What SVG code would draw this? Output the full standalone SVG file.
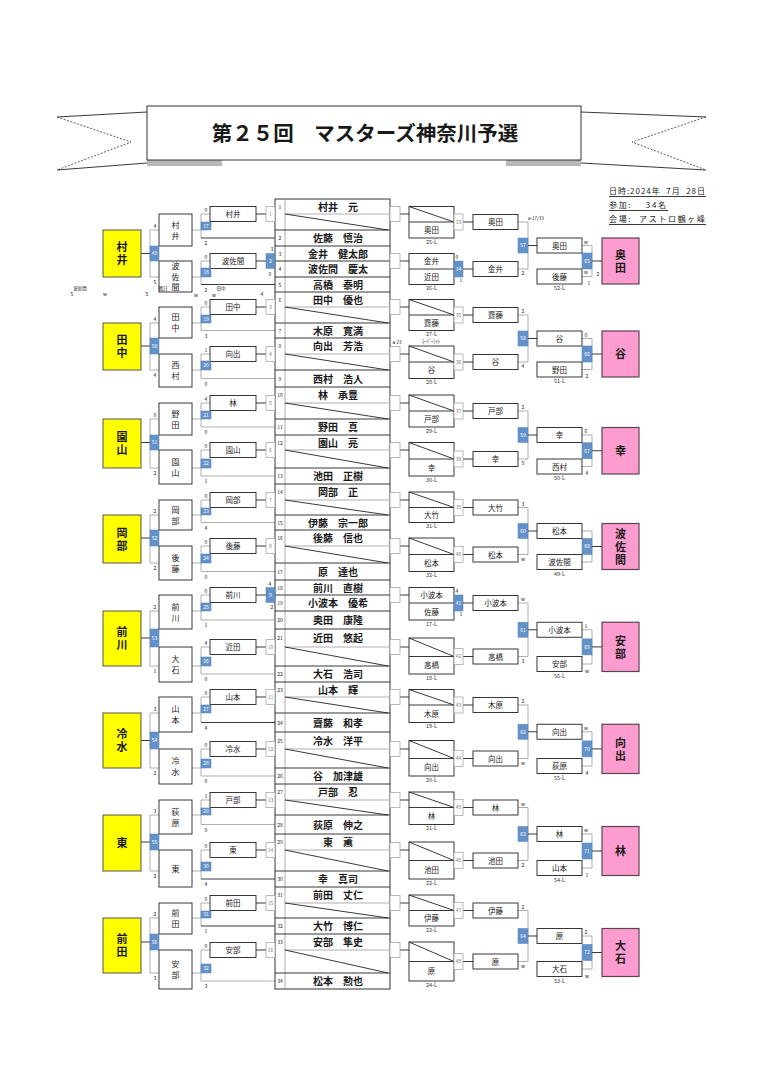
<svg xmlns="http://www.w3.org/2000/svg" width="764" height="1080" viewBox="0 0 764 1080">
<style>
text{font-family:"Noto Sans CJK JP","Noto Sans",sans-serif;text-anchor:middle;fill:#1a1a1a}
.b{fill:#fff;stroke:#222;stroke-width:.9}
.s{fill:#fff;stroke:#a8a8a8;stroke-width:.8}
.u{fill:#6392c9;stroke:#5080b8;stroke-width:.5}
.y{fill:#ffff00;stroke:#555;stroke-width:1}
.p{fill:#fc9ccf;stroke:#5c4552;stroke-width:1.2}
.k{fill:none;stroke:#222;stroke-width:.9}
.g{fill:none;stroke:#a6a6a6;stroke-width:.9}
.d{fill:none;stroke:#333;stroke-width:.8;stroke-dasharray:2 1.5}
.t{font-size:7.5px}
.v{font-size:8px}
.n{font-size:10px;font-weight:bold}
.big{font-size:11px;font-weight:bold}
.vt{writing-mode:vertical-rl;letter-spacing:2px}
.m{font-size:5px;fill:#777}
.w{font-size:5px;fill:#fff}
.sc{font-size:5px;fill:#444}
.lb{font-size:5.5px;fill:#333}
.info{font-size:8px;text-anchor:start;fill:#222}
</style>
<rect x="0" y="0" width="764" height="1080" fill="#fff"/>

<g id="title">
<path class="k" d="M57 117L147 112M57 170L147 163M581 112L706 117M581 163L706 170"/>
<path class="d" d="M57 117L131 142L57 170M706 117L632 142L706 170"/>
<rect x="147" y="158" width="75" height="8" fill="#b8b8b8"/>
<rect x="506" y="158" width="75" height="8" fill="#b8b8b8"/>
<rect x="147" y="106" width="434" height="54" fill="#fff" stroke="#333" stroke-width="1"/>
<text x="365" y="141" style="font-size:20.5px;font-weight:bold">第２５回　マスターズ神奈川予選</text>
</g>

<g id="info">
<text class="info" x="609" y="194" textLength="96" lengthAdjust="spacing" xml:space="preserve">日時:2024年  7月  28日</text>
<text class="info" x="609" y="208" textLength="57" lengthAdjust="spacing" xml:space="preserve">参加:    34名</text>
<text class="info" x="609" y="222" textLength="96" lengthAdjust="spacing" xml:space="preserve">会場:  アストロ鶴ヶ峰</text>
<path class="k" d="M609 196.5H706M609 210.5H668M609 224.5H706" stroke-width=".6"/>
</g>

<g id="connectors">
<path class="g" d="M210 214H201V238M192 230H201M210 261H201V284.5M192 277H201M159 230H150V277H159M210 307H201V330.5H275M192 323H201M210 354H201V378.5H275M192 370H201M159 323H150V370H159M210 403H201V427H275M192 419H201M210 450H201V476H275M192 468H201M159 419H150V468H159M210 500H201V522.5H275M192 515H201M210 546H201V571.5H275M192 563H201M159 515H150V563H159M210 595H201V620H275M192 611H201M210 647H201V674H275M192 666H201M159 611H150V666H159M210 697H201V722.5M192 713H201M210 749H201V776H275M192 768H201M159 713H150V768H159M210 800H201V824.5H275M192 815H201M210 850H201V879M192 871H201M159 815H150V871H159M210 903H201V926M192 918H201M210 950H201V981H275M192 973H201M159 918H150V973H159"/>
<path class="k" d="M256 214H266M201 238H275M256 261H266M201 284.5H275M141 253.5H150M256 307H266M141 346H150M256 354H266M256 403H266M256 450H266M141 442.5H150M256 500H266M256 546H266M141 538H150M256 595H266M256 647H266M141 638H150M256 697H266M201 722.5H275M256 749H266M141 740.5H150M256 800H266M256 850H266M201 879H275M141 842H150M256 903H266M201 926H275M256 950H266M141 942H150"/>
<path class="k" d="M400 214H409M463 222H473M400 261H409M463 269H473M400 307H409M463 315H473M400 354H409M463 362H473M400 403H409M463 411H473M400 450H409M463 459H473M400 500H409M463 507.5H473M400 546H409M463 554.5H473M400 595H409M463 603H473M400 647H409M463 656.5H473M400 697H409M463 705H473M400 749H409M463 758.5H473M400 800H409M463 807.5H473M400 850H409M463 860.5H473M400 903H409M463 910.5H473M400 950H409M463 961.5H473"/>
<path class="g" d="M518 222H528V269H518M582 245.5H592V276.5H582M518 315H528V362H518M582 338.5H592V369.5H582M518 411H528V459H518M582 435H592V466.5H582M518 507.5H528V554.5H518M582 531H592V562H582M518 603H528V656.5H518M582 629.75H592V664H582M518 705H528V758.5H518M582 731.75H592V766H582M518 807.5H528V860.5H518M582 834H592V868H582M518 910.5H528V961.5H518M582 936H592V969H582"/>
<path class="k" d="M528 245.5H537M592 261H602M528 338.5H537M592 354H602M528 435H537M592 450.75H602M528 531H537M592 546.5H602M528 629.75H537M592 646.9H602M528 731.75H537M592 748.9H602M528 834H537M592 851H602M528 936H537M592 952.5H602"/>
</g>

<g id="list">
<rect x="275" y="199" width="115" height="790" fill="#fff" stroke="#333" stroke-width="1"/>
<path d="M285 199V989" stroke="#999" stroke-width=".8"/>
<path class="k" d="M275 230H390M275 246H390M275 261H390M275 277H390M275 292H390M275 323H390M275 338H390M275 370H390M275 387H390M275 419H390M275 435H390M275 468H390M275 484H390M275 515H390M275 530H390M275 563H390M275 580H390M275 595H390M275 611H390M275 629H390M275 666H390M275 682H390M275 713H390M275 732H390M275 768H390M275 784H390M275 815H390M275 834H390M275 871H390M275 887H390M275 918H390M275 934H390M275 973H390"/>
<path class="g" d="M285 214H390M285 307H390M285 354H390M285 403H390M285 450H390M285 500H390M285 546H390M285 647H390M285 697H390M285 749H390M285 800H390M285 850H390M285 903H390M285 950H390"/>
<path class="k" d="M285 214L388 230M285 307L388 323M285 354L388 370M285 403L388 419M285 450L388 468M285 500L388 515M285 546L388 563M285 647L388 666M285 697L388 713M285 749L388 768M285 800L388 815M285 850L388 871M285 903L388 918M285 950L388 973"/>
<g class="m">
<text x="280" y="208.5">1</text><text x="280" y="240">2</text><text x="280" y="255.5">3</text><text x="280" y="271">4</text><text x="280" y="286.5">5</text><text x="280" y="301.5">6</text><text x="280" y="332.5">7</text><text x="280" y="348">8</text><text x="280" y="380.5">9</text><text x="280" y="397">10</text><text x="280" y="429">11</text><text x="280" y="444.5">12</text><text x="280" y="478">13</text><text x="280" y="494">14</text><text x="280" y="524.5">15</text><text x="280" y="540">16</text><text x="280" y="573.5">17</text><text x="280" y="589.5">18</text><text x="280" y="605">19</text><text x="280" y="622">20</text><text x="280" y="640">21</text><text x="280" y="676">22</text><text x="280" y="691.5">23</text><text x="280" y="724.5">24</text><text x="280" y="742.5">25</text><text x="280" y="778">26</text><text x="280" y="794">27</text><text x="280" y="826.5">28</text><text x="280" y="844">29</text><text x="280" y="881">30</text><text x="280" y="897">31</text><text x="280" y="928">32</text><text x="280" y="944">33</text><text x="280" y="983">34</text>
</g>
<g class="n">
<text x="338" y="210.5">村井　元</text>
<text x="338" y="242">佐藤　慎治</text>
<text x="338" y="257.5">金井　健太郎</text>
<text x="338" y="273">波佐間　慶太</text>
<text x="338" y="288.5">高橋　泰明</text>
<text x="338" y="303.5">田中　優也</text>
<text x="338" y="334.5">木原　寛満</text>
<text x="338" y="350">向出　芳浩</text>
<text x="338" y="382.5">西村　浩人</text>
<text x="338" y="399">林　承豊</text>
<text x="338" y="431">野田　真</text>
<text x="338" y="446.5">園山　亮</text>
<text x="338" y="480">池田　正樹</text>
<text x="338" y="496">岡部　正</text>
<text x="338" y="526.5">伊藤　宗一郎</text>
<text x="338" y="542">後藤　信也</text>
<text x="338" y="575.5">原　達也</text>
<text x="338" y="591.5">前川　直樹</text>
<text x="338" y="607">小波本　優希</text>
<text x="338" y="624">奥田　康隆</text>
<text x="338" y="642">近田　悠起</text>
<text x="338" y="678">大石　浩司</text>
<text x="338" y="693.5">山本　輝</text>
<text x="338" y="726.5">齋藤　和孝</text>
<text x="338" y="744.5">冷水　洋平</text>
<text x="338" y="780">谷　加津雄</text>
<text x="338" y="796">戸部　忍</text>
<text x="338" y="828.5">荻原　伸之</text>
<text x="338" y="846">東　薫</text>
<text x="338" y="883">幸　真司</text>
<text x="338" y="899">前田　丈仁</text>
<text x="338" y="930">大竹　博仁</text>
<text x="338" y="946">安部　隼史</text>
<text x="338" y="985">松本　勲也</text>
</g>
</g>

<g id="a1"><rect class="b" x="210" y="206.5" width="46" height="15"/><text class="t" x="233" y="216.5">村井</text></g>
<g id="a2"><rect class="b" x="210" y="253.5" width="46" height="15"/><text class="t" x="233" y="263.5">波佐間</text></g>
<g id="a3"><rect class="b" x="210" y="299.5" width="46" height="15"/><text class="t" x="233" y="309.5">田中</text></g>
<g id="a4"><rect class="b" x="210" y="346.5" width="46" height="15"/><text class="t" x="233" y="356.5">向出</text></g>
<g id="a5"><rect class="b" x="210" y="395.5" width="46" height="15"/><text class="t" x="233" y="405.5">林</text></g>
<g id="a6"><rect class="b" x="210" y="442.5" width="46" height="15"/><text class="t" x="233" y="452.5">園山</text></g>
<g id="a7"><rect class="b" x="210" y="492.5" width="46" height="15"/><text class="t" x="233" y="502.5">岡部</text></g>
<g id="a8"><rect class="b" x="210" y="538.5" width="46" height="15"/><text class="t" x="233" y="548.5">後藤</text></g>
<g id="a9"><rect class="b" x="210" y="587.5" width="46" height="15"/><text class="t" x="233" y="597.5">前川</text></g>
<g id="a10"><rect class="b" x="210" y="639.5" width="46" height="15"/><text class="t" x="233" y="649.5">近田</text></g>
<g id="a11"><rect class="b" x="210" y="689.5" width="46" height="15"/><text class="t" x="233" y="699.5">山本</text></g>
<g id="a12"><rect class="b" x="210" y="741.5" width="46" height="15"/><text class="t" x="233" y="751.5">冷水</text></g>
<g id="a13"><rect class="b" x="210" y="792.5" width="46" height="15"/><text class="t" x="233" y="802.5">戸部</text></g>
<g id="a14"><rect class="b" x="210" y="842.5" width="46" height="15"/><text class="t" x="233" y="852.5">東</text></g>
<g id="a15"><rect class="b" x="210" y="895.5" width="46" height="15"/><text class="t" x="233" y="905.5">前田</text></g>
<g id="a16"><rect class="b" x="210" y="942.5" width="46" height="15"/><text class="t" x="233" y="952.5">安部</text></g>

<g id="m1"><rect class="s" x="266" y="206.5" width="9" height="15"/><text class="m" x="270.5" y="216">1</text></g>
<g id="m2"><rect class="u" x="266" y="253.5" width="9" height="15"/><text class="w" x="270.5" y="263">2</text></g>
<g id="m3"><rect class="s" x="266" y="299.5" width="9" height="15"/><text class="m" x="270.5" y="309">3</text></g>
<g id="m4"><rect class="s" x="266" y="346.5" width="9" height="15"/><text class="m" x="270.5" y="356">4</text></g>
<g id="m5"><rect class="s" x="266" y="395.5" width="9" height="15"/><text class="m" x="270.5" y="405">5</text></g>
<g id="m6"><rect class="s" x="266" y="442.5" width="9" height="15"/><text class="m" x="270.5" y="452">6</text></g>
<g id="m7"><rect class="s" x="266" y="492.5" width="9" height="15"/><text class="m" x="270.5" y="502">7</text></g>
<g id="m8"><rect class="s" x="266" y="538.5" width="9" height="15"/><text class="m" x="270.5" y="548">8</text></g>
<g id="m9"><rect class="u" x="266" y="587.5" width="9" height="15"/><text class="w" x="270.5" y="597">9</text></g>
<g id="m10"><rect class="s" x="266" y="639.5" width="9" height="15"/><text class="m" x="270.5" y="649">10</text></g>
<g id="m11"><rect class="s" x="266" y="689.5" width="9" height="15"/><text class="m" x="270.5" y="699">11</text></g>
<g id="m12"><rect class="s" x="266" y="741.5" width="9" height="15"/><text class="m" x="270.5" y="751">12</text></g>
<g id="m13"><rect class="s" x="266" y="792.5" width="9" height="15"/><text class="m" x="270.5" y="802">13</text></g>
<g id="m14"><rect class="s" x="266" y="842.5" width="9" height="15"/><text class="m" x="270.5" y="852">14</text></g>
<g id="m15"><rect class="s" x="266" y="895.5" width="9" height="15"/><text class="m" x="270.5" y="905">15</text></g>
<g id="m16"><rect class="s" x="266" y="942.5" width="9" height="15"/><text class="m" x="270.5" y="952">16</text></g>

<g id="m17"><rect class="u" x="201" y="222" width="10" height="8"/><text class="w" x="206" y="227.8">17</text></g>
<g id="m18"><rect class="u" x="201" y="268" width="10" height="9"/><text class="w" x="206" y="274.3">18</text></g>
<g id="m19"><rect class="u" x="201" y="315" width="10" height="8"/><text class="w" x="206" y="320.8">19</text></g>
<g id="m20"><rect class="u" x="201" y="361" width="10" height="9"/><text class="w" x="206" y="367.3">20</text></g>
<g id="m21"><rect class="u" x="201" y="411" width="10" height="8"/><text class="w" x="206" y="416.8">21</text></g>
<g id="m22"><rect class="u" x="201" y="459" width="10" height="9"/><text class="w" x="206" y="465.3">22</text></g>
<g id="m23"><rect class="u" x="201" y="508" width="10" height="7"/><text class="w" x="206" y="513.3">23</text></g>
<g id="m24"><rect class="u" x="201" y="554" width="10" height="9"/><text class="w" x="206" y="560.3">24</text></g>
<g id="m25"><rect class="u" x="201" y="603" width="10" height="8"/><text class="w" x="206" y="608.8">25</text></g>
<g id="m26"><rect class="u" x="201" y="657" width="10" height="9"/><text class="w" x="206" y="663.3">26</text></g>
<g id="m27"><rect class="u" x="201" y="705" width="10" height="8"/><text class="w" x="206" y="710.8">27</text></g>
<g id="m28"><rect class="u" x="201" y="759" width="10" height="9"/><text class="w" x="206" y="765.3">28</text></g>
<g id="m29"><rect class="u" x="201" y="808" width="10" height="7"/><text class="w" x="206" y="813.3">29</text></g>
<g id="m30"><rect class="u" x="201" y="862" width="10" height="9"/><text class="w" x="206" y="868.3">30</text></g>
<g id="m31"><rect class="u" x="201" y="911" width="10" height="7"/><text class="w" x="206" y="916.3">31</text></g>
<g id="m32"><rect class="u" x="201" y="964" width="10" height="9"/><text class="w" x="206" y="970.3">32</text></g>

<g id="b1"><rect class="b" x="159" y="214" width="33" height="32"/><text class="v" x="175.5" y="227.5">村</text><text class="v" x="175.5" y="238.5">井</text></g>
<g id="b2"><rect class="b" x="159" y="261" width="33" height="31"/><text class="v" x="175.5" y="269">波</text><text class="v" x="175.5" y="279.5">佐</text><text class="v" x="175.5" y="290">間</text></g>
<g id="b3"><rect class="b" x="159" y="307" width="33" height="31"/><text class="v" x="175.5" y="320">田</text><text class="v" x="175.5" y="331">中</text></g>
<g id="b4"><rect class="b" x="159" y="354" width="33" height="33"/><text class="v" x="175.5" y="368">西</text><text class="v" x="175.5" y="379">村</text></g>
<g id="b5"><rect class="b" x="159" y="403" width="33" height="32"/><text class="v" x="175.5" y="416.5">野</text><text class="v" x="175.5" y="427.5">田</text></g>
<g id="b6"><rect class="b" x="159" y="450" width="33" height="34"/><text class="v" x="175.5" y="464.5">園</text><text class="v" x="175.5" y="475.5">山</text></g>
<g id="b7"><rect class="b" x="159" y="500" width="33" height="30"/><text class="v" x="175.5" y="512.5">岡</text><text class="v" x="175.5" y="523.5">部</text></g>
<g id="b8"><rect class="b" x="159" y="546" width="33" height="34"/><text class="v" x="175.5" y="560.5">後</text><text class="v" x="175.5" y="571.5">藤</text></g>
<g id="b9"><rect class="b" x="159" y="595" width="33" height="34"/><text class="v" x="175.5" y="609.5">前</text><text class="v" x="175.5" y="620.5">川</text></g>
<g id="b10"><rect class="b" x="159" y="647" width="33" height="35"/><text class="v" x="175.5" y="662">大</text><text class="v" x="175.5" y="673">石</text></g>
<g id="b11"><rect class="b" x="159" y="697" width="33" height="35"/><text class="v" x="175.5" y="712">山</text><text class="v" x="175.5" y="723">本</text></g>
<g id="b12"><rect class="b" x="159" y="749" width="33" height="35"/><text class="v" x="175.5" y="764">冷</text><text class="v" x="175.5" y="775">水</text></g>
<g id="b13"><rect class="b" x="159" y="800" width="33" height="34"/><text class="v" x="175.5" y="814.5">荻</text><text class="v" x="175.5" y="825.5">原</text></g>
<g id="b14"><rect class="b" x="159" y="850" width="33" height="37"/><text class="v" x="175.5" y="871.5">東</text></g>
<g id="b15"><rect class="b" x="159" y="903" width="33" height="31"/><text class="v" x="175.5" y="916">前</text><text class="v" x="175.5" y="927">田</text></g>
<g id="b16"><rect class="b" x="159" y="950" width="33" height="39"/><text class="v" x="175.5" y="967">安</text><text class="v" x="175.5" y="978">部</text></g>

<g id="m49"><rect class="u" x="150" y="246" width="9" height="15"/><text class="w" x="154.5" y="255.3">49</text></g>
<g id="m50"><rect class="u" x="150" y="338" width="9" height="16"/><text class="w" x="154.5" y="347.8">50</text></g>
<g id="m51"><rect class="u" x="150" y="435" width="9" height="15"/><text class="w" x="154.5" y="444.3">51</text></g>
<g id="m52"><rect class="u" x="150" y="530" width="9" height="16"/><text class="w" x="154.5" y="539.8">52</text></g>
<g id="m53"><rect class="u" x="150" y="629" width="9" height="18"/><text class="w" x="154.5" y="639.8">53</text></g>
<g id="m54"><rect class="u" x="150" y="732" width="9" height="17"/><text class="w" x="154.5" y="742.3">54</text></g>
<g id="m55"><rect class="u" x="150" y="834" width="9" height="16"/><text class="w" x="154.5" y="843.8">55</text></g>
<g id="m56"><rect class="u" x="150" y="934" width="9" height="16"/><text class="w" x="154.5" y="943.8">56</text></g>

<g id="y1"><rect class="y" x="103" y="230" width="38" height="47"/><text class="big vt" x="122" y="254.5">村井</text></g>
<g id="y2"><rect class="y" x="103" y="323" width="38" height="47"/><text class="big vt" x="122" y="347.5">田中</text></g>
<g id="y3"><rect class="y" x="103" y="419" width="38" height="49"/><text class="big vt" x="122" y="444.5">園山</text></g>
<g id="y4"><rect class="y" x="103" y="515" width="38" height="48"/><text class="big vt" x="122" y="540">岡部</text></g>
<g id="y5"><rect class="y" x="103" y="611" width="38" height="55"/><text class="big vt" x="122" y="639.5">前川</text></g>
<g id="y6"><rect class="y" x="103" y="713" width="38" height="55"/><text class="big vt" x="122" y="741.5">冷水</text></g>
<g id="y7"><rect class="y" x="103" y="815" width="38" height="56"/><text class="big vt" x="122" y="844">東</text></g>
<g id="y8"><rect class="y" x="103" y="918" width="38" height="55"/><text class="big vt" x="122" y="946.5">前田</text></g>

<g id="rs">
<rect class="s" x="390" y="206.5" width="10" height="15"/><rect class="s" x="390" y="253.5" width="10" height="15"/><rect class="s" x="390" y="299.5" width="10" height="15"/><rect class="s" x="390" y="346.5" width="10" height="15"/><rect class="s" x="390" y="395.5" width="10" height="15"/><rect class="s" x="390" y="442.5" width="10" height="15"/><rect class="s" x="390" y="492.5" width="10" height="15"/><rect class="s" x="390" y="538.5" width="10" height="15"/><rect class="s" x="390" y="587.5" width="10" height="15"/><rect class="s" x="390" y="639.5" width="10" height="15"/><rect class="s" x="390" y="689.5" width="10" height="15"/><rect class="s" x="390" y="741.5" width="10" height="15"/><rect class="s" x="390" y="792.5" width="10" height="15"/><rect class="s" x="390" y="842.5" width="10" height="15"/><rect class="s" x="390" y="895.5" width="10" height="15"/><rect class="s" x="390" y="942.5" width="10" height="15"/>
</g>

<g id="l1"><rect class="b" x="409" y="206.5" width="45" height="31.5"/><path class="k" d="M409 222H454M409 206.5L454 222"/><text class="t" x="431.5" y="233">奥田</text><text class="lb" x="431.5" y="243.5">25-L</text></g>
<g id="l2"><rect class="b" x="409" y="253.5" width="45" height="31"/><path class="k" d="M409 269H454"/><text class="t" x="431.5" y="264.3">金井</text><text class="t" x="431.5" y="279.8">近田</text><text class="lb" x="431.5" y="290">26-L</text></g>
<g id="l3"><rect class="b" x="409" y="299.5" width="45" height="31"/><path class="k" d="M409 315H454M409 299.5L454 315"/><text class="t" x="431.5" y="325.8">齋藤</text><text class="lb" x="431.5" y="336">27-L</text></g>
<g id="l4"><rect class="b" x="409" y="346" width="45" height="32.5"/><path class="k" d="M409 362H454M409 346L454 362"/><text class="t" x="431.5" y="373.3">谷</text><text class="lb" x="431.5" y="384">28-L</text></g>
<g id="l5"><rect class="b" x="409" y="395" width="45" height="32"/><path class="k" d="M409 411H454M409 395L454 411"/><text class="t" x="431.5" y="422">戸部</text><text class="lb" x="431.5" y="432.5">29-L</text></g>
<g id="l6"><rect class="b" x="409" y="442.5" width="45" height="33.5"/><path class="k" d="M409 459H454M409 442.5L454 459"/><text class="t" x="431.5" y="470.5">幸</text><text class="lb" x="431.5" y="481.5">30-L</text></g>
<g id="l7"><rect class="b" x="409" y="492" width="45" height="30.5"/><path class="k" d="M409 507.5H454M409 492L454 507.5"/><text class="t" x="431.5" y="518">大竹</text><text class="lb" x="431.5" y="528">31-L</text></g>
<g id="l8"><rect class="b" x="409" y="538" width="45" height="33.5"/><path class="k" d="M409 554.5H454M409 538L454 554.5"/><text class="t" x="431.5" y="566">松本</text><text class="lb" x="431.5" y="577">32-L</text></g>
<g id="l9"><rect class="b" x="409" y="587.5" width="45" height="32.5"/><path class="k" d="M409 603H454"/><text class="t" x="431.5" y="598.3">小波本</text><text class="t" x="431.5" y="614.5">佐藤</text><text class="lb" x="431.5" y="625.5">17-L</text></g>
<g id="l10"><rect class="b" x="409" y="638" width="45" height="36"/><path class="k" d="M409 656.5H454M409 638L454 656.5"/><text class="t" x="431.5" y="668.3">高橋</text><text class="lb" x="431.5" y="679.5">18-L</text></g>
<g id="l11"><rect class="b" x="409" y="689.5" width="45" height="33"/><path class="k" d="M409 705H454M409 689.5L454 705"/><text class="t" x="431.5" y="716.8">木原</text><text class="lb" x="431.5" y="728">19-L</text></g>
<g id="l12"><rect class="b" x="409" y="740.5" width="45" height="35.5"/><path class="k" d="M409 758.5H454M409 740.5L454 758.5"/><text class="t" x="431.5" y="770.3">向出</text><text class="lb" x="431.5" y="781.5">20-L</text></g>
<g id="l13"><rect class="b" x="409" y="792" width="45" height="32.5"/><path class="k" d="M409 807.5H454M409 792L454 807.5"/><text class="t" x="431.5" y="819">林</text><text class="lb" x="431.5" y="830">21-L</text></g>
<g id="l14"><rect class="b" x="409" y="842" width="45" height="37"/><path class="k" d="M409 860.5H454M409 842L454 860.5"/><text class="t" x="431.5" y="872.8">池田</text><text class="lb" x="431.5" y="884.5">22-L</text></g>
<g id="l15"><rect class="b" x="409" y="895" width="45" height="31"/><path class="k" d="M409 910.5H454M409 895L454 910.5"/><text class="t" x="431.5" y="921.3">伊藤</text><text class="lb" x="431.5" y="931.5">23-L</text></g>
<g id="l16"><rect class="b" x="409" y="942" width="45" height="39"/><path class="k" d="M409 961.5H454M409 942L454 961.5"/><text class="t" x="431.5" y="974.3">原</text><text class="lb" x="431.5" y="986.5">24-L</text></g>

<g id="m33"><rect class="s" x="454" y="214" width="9" height="16"/><text class="m" x="458.5" y="223.8">33</text></g>
<g id="m34"><rect class="u" x="454" y="261" width="9" height="16"/><text class="w" x="458.5" y="270.8">34</text></g>
<g id="m35"><rect class="s" x="454" y="307" width="9" height="16"/><text class="m" x="458.5" y="316.8">35</text></g>
<g id="m36"><rect class="s" x="454" y="354" width="9" height="16"/><text class="m" x="458.5" y="363.8">36</text></g>
<g id="m37"><rect class="s" x="454" y="403" width="9" height="16"/><text class="m" x="458.5" y="412.8">37</text></g>
<g id="m38"><rect class="s" x="454" y="451" width="9" height="16"/><text class="m" x="458.5" y="460.8">38</text></g>
<g id="m39"><rect class="s" x="454" y="499.5" width="9" height="16"/><text class="m" x="458.5" y="509.3">39</text></g>
<g id="m40"><rect class="s" x="454" y="546.5" width="9" height="16"/><text class="m" x="458.5" y="556.3">40</text></g>
<g id="m41"><rect class="u" x="454" y="595" width="9" height="16"/><text class="w" x="458.5" y="604.8">41</text></g>
<g id="m42"><rect class="s" x="454" y="648.5" width="9" height="16"/><text class="m" x="458.5" y="658.3">42</text></g>
<g id="m43"><rect class="s" x="454" y="697" width="9" height="16"/><text class="m" x="458.5" y="706.8">43</text></g>
<g id="m44"><rect class="s" x="454" y="750.5" width="9" height="16"/><text class="m" x="458.5" y="760.3">44</text></g>
<g id="m45"><rect class="s" x="454" y="799.5" width="9" height="16"/><text class="m" x="458.5" y="809.3">45</text></g>
<g id="m46"><rect class="s" x="454" y="852.5" width="9" height="16"/><text class="m" x="458.5" y="862.3">46</text></g>
<g id="m47"><rect class="s" x="454" y="902.5" width="9" height="16"/><text class="m" x="458.5" y="912.3">47</text></g>
<g id="m48"><rect class="s" x="454" y="953.5" width="9" height="16"/><text class="m" x="458.5" y="963.3">48</text></g>

<g id="w33"><rect class="b" x="473" y="214.5" width="45" height="15"/><text class="t" x="495.5" y="225">奥田</text></g>
<g id="w34"><rect class="b" x="473" y="261.5" width="45" height="15"/><text class="t" x="495.5" y="272">金井</text></g>
<g id="w35"><rect class="b" x="473" y="307.5" width="45" height="15"/><text class="t" x="495.5" y="318">齋藤</text></g>
<g id="w36"><rect class="b" x="473" y="354.5" width="45" height="15"/><text class="t" x="495.5" y="365">谷</text></g>
<g id="w37"><rect class="b" x="473" y="403.5" width="45" height="15"/><text class="t" x="495.5" y="414">戸部</text></g>
<g id="w38"><rect class="b" x="473" y="451.5" width="45" height="15"/><text class="t" x="495.5" y="462">幸</text></g>
<g id="w39"><rect class="b" x="473" y="500" width="45" height="15"/><text class="t" x="495.5" y="510.5">大竹</text></g>
<g id="w40"><rect class="b" x="473" y="547" width="45" height="15"/><text class="t" x="495.5" y="557.5">松本</text></g>
<g id="w41"><rect class="b" x="473" y="595.5" width="45" height="15"/><text class="t" x="495.5" y="606">小波本</text></g>
<g id="w42"><rect class="b" x="473" y="649" width="45" height="15"/><text class="t" x="495.5" y="659.5">高橋</text></g>
<g id="w43"><rect class="b" x="473" y="697.5" width="45" height="15"/><text class="t" x="495.5" y="708">木原</text></g>
<g id="w44"><rect class="b" x="473" y="751" width="45" height="15"/><text class="t" x="495.5" y="761.5">向出</text></g>
<g id="w45"><rect class="b" x="473" y="800" width="45" height="15"/><text class="t" x="495.5" y="810.5">林</text></g>
<g id="w46"><rect class="b" x="473" y="853" width="45" height="15"/><text class="t" x="495.5" y="863.5">池田</text></g>
<g id="w47"><rect class="b" x="473" y="903" width="45" height="15"/><text class="t" x="495.5" y="913.5">伊藤</text></g>
<g id="w48"><rect class="b" x="473" y="954" width="45" height="15"/><text class="t" x="495.5" y="964.5">原</text></g>

<g id="m57"><rect class="u" x="518" y="238" width="10" height="15"/><text class="w" x="523" y="247.3">57</text></g>
<g id="m58"><rect class="u" x="518" y="331" width="10" height="15"/><text class="w" x="523" y="340.3">58</text></g>
<g id="m59"><rect class="u" x="518" y="427.5" width="10" height="15"/><text class="w" x="523" y="436.8">59</text></g>
<g id="m60"><rect class="u" x="518" y="523.5" width="10" height="15"/><text class="w" x="523" y="532.8">60</text></g>
<g id="m61"><rect class="u" x="518" y="622.25" width="10" height="15"/><text class="w" x="523" y="631.5">61</text></g>
<g id="m62"><rect class="u" x="518" y="724.25" width="10" height="15"/><text class="w" x="523" y="733.5">62</text></g>
<g id="m63"><rect class="u" x="518" y="826.5" width="10" height="15"/><text class="w" x="523" y="835.8">63</text></g>
<g id="m64"><rect class="u" x="518" y="928.5" width="10" height="15"/><text class="w" x="523" y="937.8">64</text></g>

<g id="r57"><rect class="b" x="537" y="238" width="45" height="15"/><text class="t" x="559.5" y="248.5">奥田</text></g>
<g id="q1"><rect class="b" x="537" y="269" width="45" height="15"/><text class="t" x="559.5" y="279.5">後藤</text><text class="lb" x="559.5" y="290">52-L</text></g>
<g id="r58"><rect class="b" x="537" y="331" width="45" height="15"/><text class="t" x="559.5" y="341.5">谷</text></g>
<g id="q2"><rect class="b" x="537" y="362" width="45" height="15"/><text class="t" x="559.5" y="372.5">野田</text><text class="lb" x="559.5" y="383">51-L</text></g>
<g id="r59"><rect class="b" x="537" y="427.5" width="45" height="15"/><text class="t" x="559.5" y="438">幸</text></g>
<g id="q3"><rect class="b" x="537" y="459" width="45" height="15"/><text class="t" x="559.5" y="469.5">西村</text><text class="lb" x="559.5" y="480">50-L</text></g>
<g id="r60"><rect class="b" x="537" y="523.5" width="45" height="15"/><text class="t" x="559.5" y="534">松本</text></g>
<g id="q4"><rect class="b" x="537" y="554.5" width="45" height="15"/><text class="t" x="559.5" y="565">波佐間</text><text class="lb" x="559.5" y="575.5">49-L</text></g>
<g id="r61"><rect class="b" x="537" y="622.25" width="45" height="15"/><text class="t" x="559.5" y="632.75">小波本</text></g>
<g id="q5"><rect class="b" x="537" y="656.5" width="45" height="15"/><text class="t" x="559.5" y="667">安部</text><text class="lb" x="559.5" y="677.5">56-L</text></g>
<g id="r62"><rect class="b" x="537" y="724.25" width="45" height="15"/><text class="t" x="559.5" y="734.75">向出</text></g>
<g id="q6"><rect class="b" x="537" y="758.5" width="45" height="15"/><text class="t" x="559.5" y="769">荻原</text><text class="lb" x="559.5" y="779.5">55-L</text></g>
<g id="r63"><rect class="b" x="537" y="826.5" width="45" height="15"/><text class="t" x="559.5" y="837">林</text></g>
<g id="q7"><rect class="b" x="537" y="860.5" width="45" height="15"/><text class="t" x="559.5" y="871">山本</text><text class="lb" x="559.5" y="881.5">54-L</text></g>
<g id="r64"><rect class="b" x="537" y="928.5" width="45" height="15"/><text class="t" x="559.5" y="939">原</text></g>
<g id="q8"><rect class="b" x="537" y="961.5" width="45" height="15"/><text class="t" x="559.5" y="972">大石</text><text class="lb" x="559.5" y="982.5">53-L</text></g>

<g id="m65"><rect class="u" x="582" y="253" width="10" height="16"/><text class="w" x="587" y="262.8">65</text></g>
<g id="m66"><rect class="u" x="582" y="346" width="10" height="16"/><text class="w" x="587" y="355.8">66</text></g>
<g id="m67"><rect class="u" x="582" y="442.75" width="10" height="16"/><text class="w" x="587" y="452.5">67</text></g>
<g id="m68"><rect class="u" x="582" y="538.5" width="10" height="16"/><text class="w" x="587" y="548.3">68</text></g>
<g id="m69"><rect class="u" x="582" y="638.9" width="10" height="16"/><text class="w" x="587" y="648.7">69</text></g>
<g id="m70"><rect class="u" x="582" y="740.9" width="10" height="16"/><text class="w" x="587" y="750.7">70</text></g>
<g id="m71"><rect class="u" x="582" y="843" width="10" height="16"/><text class="w" x="587" y="852.8">71</text></g>
<g id="m72"><rect class="u" x="582" y="944.5" width="10" height="16"/><text class="w" x="587" y="954.3">72</text></g>

<g id="p1"><rect class="p" x="602" y="238" width="37" height="46"/><text class="big vt" x="620.5" y="262">奥田</text></g>
<g id="p2"><rect class="p" x="602" y="331" width="37" height="46"/><text class="big vt" x="620.5" y="355">谷</text></g>
<g id="p3"><rect class="p" x="602" y="427.5" width="37" height="46.5"/><text class="big vt" x="620.5" y="451.75">幸</text></g>
<g id="p4"><rect class="p" x="602" y="523.5" width="37" height="46"/><text class="big vt" x="620.5" y="547.5">波佐間</text></g>
<g id="p5"><rect class="p" x="602" y="622.25" width="37" height="49.25"/><text class="big vt" x="620.5" y="647.9">安部</text></g>
<g id="p6"><rect class="p" x="602" y="724.25" width="37" height="49.25"/><text class="big vt" x="620.5" y="749.9">向出</text></g>
<g id="p7"><rect class="p" x="602" y="826.5" width="37" height="49"/><text class="big vt" x="620.5" y="852">林</text></g>
<g id="p8"><rect class="p" x="602" y="928.5" width="37" height="48"/><text class="big vt" x="620.5" y="953.5">大石</text></g>

<g id="scores" class="sc">
<text x="206" y="212">0</text><text x="206" y="245">2</text><text x="206" y="259">0</text><text x="206" y="291.5">2</text><text x="155" y="228">4</text><text x="155" y="284">5</text><text x="272" y="251">3</text><text x="270" y="276">0</text>
<text x="206" y="305">0</text><text x="206" y="338">3</text><text x="206" y="352">1</text><text x="206" y="386">0</text><text x="155" y="321">4</text><text x="155" y="377">4</text>
<text x="206" y="401">4</text><text x="206" y="434">0</text><text x="206" y="448">0</text><text x="206" y="483">1</text><text x="155" y="417">0</text><text x="155" y="475">2</text>
<text x="206" y="498">0</text><text x="206" y="529.5">4</text><text x="206" y="544">0</text><text x="206" y="578.5">0</text><text x="155" y="513">2</text><text x="155" y="570">2</text>
<text x="206" y="593">0</text><text x="206" y="627">1</text><text x="206" y="645">4</text><text x="206" y="681">0</text><text x="155" y="609">2</text><text x="155" y="673">1</text><text x="270" y="586">4</text><text x="272" y="609">2</text>
<text x="206" y="695">0</text><text x="206" y="729.5">4</text><text x="206" y="747">0</text><text x="206" y="783">0</text><text x="155" y="711">3</text><text x="155" y="775">2</text>
<text x="206" y="798">1</text><text x="206" y="831.5">0</text><text x="206" y="848">0</text><text x="206" y="886">4</text><text x="155" y="813">3</text><text x="155" y="878">2</text>
<text x="206" y="901">0</text><text x="206" y="933">1</text><text x="206" y="948">0</text><text x="206" y="988">3</text><text x="155" y="916">2</text><text x="155" y="980">3</text>
<text x="457" y="259">0</text><text x="461" y="282">1</text><text x="457" y="593">4</text><text x="461" y="616">1</text>
<text x="523" y="275">2</text><text x="523" y="313">2</text><text x="523" y="368">4</text><text x="523" y="409">2</text><text x="523" y="465">5</text><text x="523" y="505.5">3</text><text x="523" y="560.5">w</text><text x="523" y="601">w</text><text x="523" y="662.5">3</text><text x="523" y="703">2</text><text x="523" y="764.5">w</text><text x="523" y="805.5">w</text><text x="523" y="866.5">2</text><text x="523" y="908.5">2</text><text x="523" y="967.5">w</text>
<text x="586" y="243.5">w</text><text x="586" y="274">w</text><text x="598" y="276">2</text><text x="589" y="285">1</text><text x="586" y="336.5">0</text><text x="587" y="378">2</text><text x="586" y="433">6</text><text x="587" y="475">4</text><text x="586" y="627.5">1</text><text x="587" y="672.5">w</text><text x="586" y="729.5">w</text><text x="587" y="774.5">4</text><text x="586" y="832">w</text><text x="587" y="876.5">1</text><text x="586" y="934">2</text><text x="587" y="977.5">w</text>
<text x="528" y="220" style="text-anchor:start;font-size:4.5px">a-17/33</text>
<text x="397" y="344" style="font-size:4.5px">a-23</text>
<text x="431" y="342.5" style="font-size:4.5px">ｽｰﾊﾟｰﾗｲﾄ</text>
<text x="80" y="290" style="font-size:4.5px">波佐間</text><text x="72" y="296">5</text><text x="105" y="296">w</text><text x="147" y="296">5</text><text x="163" y="290" style="font-size:4.5px">戦日</text><text x="196" y="297">w</text><text x="214" y="297">w</text><text x="262" y="296">4</text><text x="221" y="290" style="font-size:4.5px">田中</text>
</g>
</svg>
